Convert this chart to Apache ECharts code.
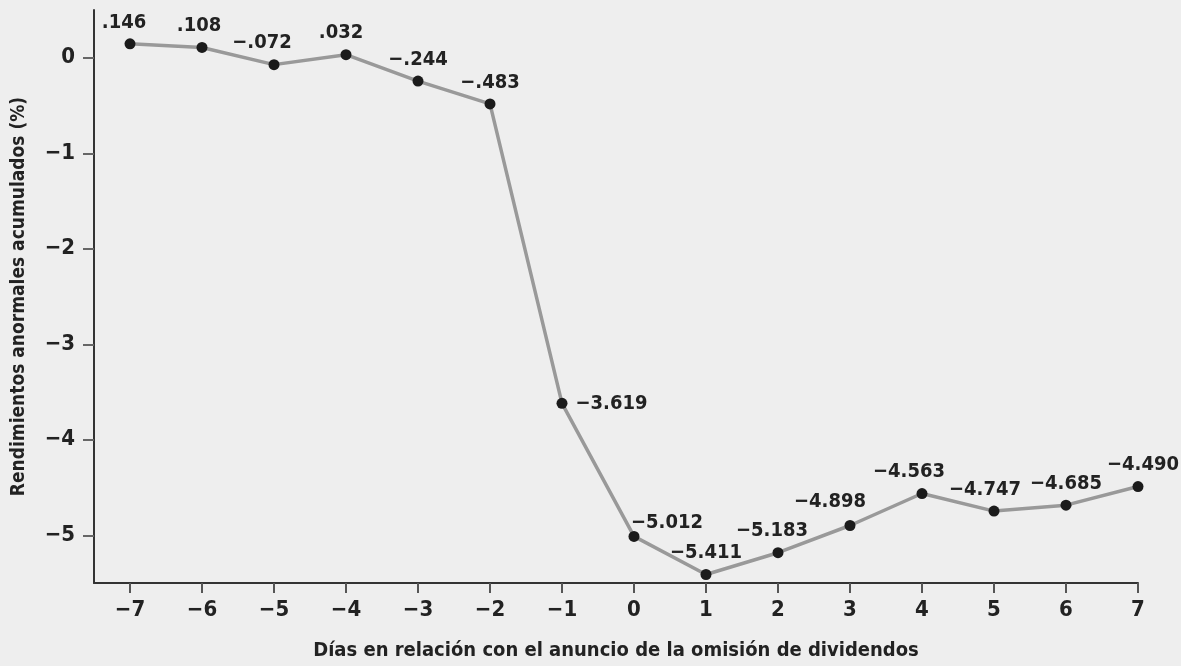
<!DOCTYPE html>
<html>
<head>
<meta charset="utf-8">
<script src="https://cdn.jsdelivr.net/npm/echarts@6/dist/echarts.min.js"></script>
<style>
  html, body { margin: 0; padding: 0; background: #eeeeee; }
  #chart { width: 1181px; height: 666px; }
</style>
</head>
<body>
<div id="chart"></div>
<script>
// dias relativos al anuncio
const dias = [-7, -6, -5, -4, -3, -2, -1, 0, 1, 2, 3, 4, 5, 6, 7]
// rendimientos anormales acumulados (%)
const rendimientos = [0.146, 0.108, -0.072, 0.032, -0.244, -0.483, -3.619, -5.012, -5.411, -5.183, -4.898, -4.563, -4.747, -4.685, -4.490]
const xTicks = [-7, -6, -5, -4, -3, -2, -1, 0, 1, 2, 3, 4, 5, 6, 7]
const yTicks = [0, -1, -2, -3, -4, -5]

const FONT = "'Liberation Sans Narrow', 'DejaVu Sans Condensed', 'Roboto Condensed', sans-serif"
const TXT = '#222'

// etiqueta tipo ".146" / "−.072"
function fmt(v) {
  let s = Math.abs(v).toFixed(3)
  if (s.startsWith('0')) s = s.slice(1)
  return (v < 0 ? '\u2212' : '') + s
}
function tickFmt(v) {
  return v < 0 ? '\u2212' + Math.abs(v) : String(v)
}

// ajuste de etiquetas (solo estilo)
const labelShift = {
  0: [-6, 0], 1: [-3, 0], 2: [-12, 0], 3: [-5, 0],
  9: [-6, 0], 10: [-20, -2], 11: [-13, 0], 12: [-9, 0], 14: [5, 0]
}

const seriesData = dias.map((d, i) => {
  const item = { value: [d, rendimientos[i]] }
  if (i === 6) {
    item.label = { position: 'right', distance: 8 }
  } else if (i === 7) {
    item.label = { position: 'top', offset: [33, 8] }
  } else if (labelShift[i]) {
    item.label = { offset: labelShift[i] }
  }
  return item
})

const myChart = echarts.init(document.getElementById('chart'))
myChart.setOption({
  backgroundColor: '#eeeeee',
  animation: false,
  grid: { left: 94, right: 43, top: 10, bottom: 81 },
  xAxis: {
    type: 'value',
    min: -7.5,
    max: 7,
    name: 'Días en relación con el anuncio de la omisión de dividendos',
    nameLocation: 'middle',
    nameGap: 58,
    nameTextStyle: { fontFamily: FONT, fontWeight: 'bold', fontSize: 20, color: TXT },
    axisLine: { onZero: false, lineStyle: { color: '#333', width: 2 } },
    axisTick: { show: true, length: 10, customValues: xTicks, lineStyle: { color: '#555', width: 2 } },
    axisLabel: {
      customValues: xTicks,
      margin: 16,
      formatter: tickFmt,
      fontFamily: FONT, fontWeight: 'bold', fontSize: 22, color: TXT
    },
    splitLine: { show: false }
  },
  yAxis: {
    type: 'value',
    min: -5.5,
    max: 0.5,
    name: 'Rendimientos anormales acumulados (%)',
    nameLocation: 'middle',
    nameGap: 65,
    nameRotate: 90,
    nameTextStyle: { fontFamily: FONT, fontWeight: 'bold', fontSize: 19, color: TXT },
    axisLine: { show: true, onZero: false, lineStyle: { color: '#333', width: 2 } },
    axisTick: { show: true, length: 11, customValues: yTicks, lineStyle: { color: '#666', width: 2 } },
    axisLabel: {
      customValues: yTicks,
      margin: 19,
      formatter: tickFmt,
      fontFamily: FONT, fontWeight: 'bold', fontSize: 22, color: TXT
    },
    splitLine: { show: false }
  },
  series: [{
    type: 'line',
    data: seriesData,
    symbol: 'circle',
    symbolSize: 11,
    itemStyle: { color: '#1b1b1b' },
    lineStyle: { color: '#999999', width: 3.5 },
    label: {
      show: true,
      position: 'top',
      distance: 6,
      formatter: p => fmt(p.value[1]),
      fontFamily: FONT, fontWeight: 'bold', fontSize: 20, color: TXT
    }
  }]
})
</script>
</body>
</html>
